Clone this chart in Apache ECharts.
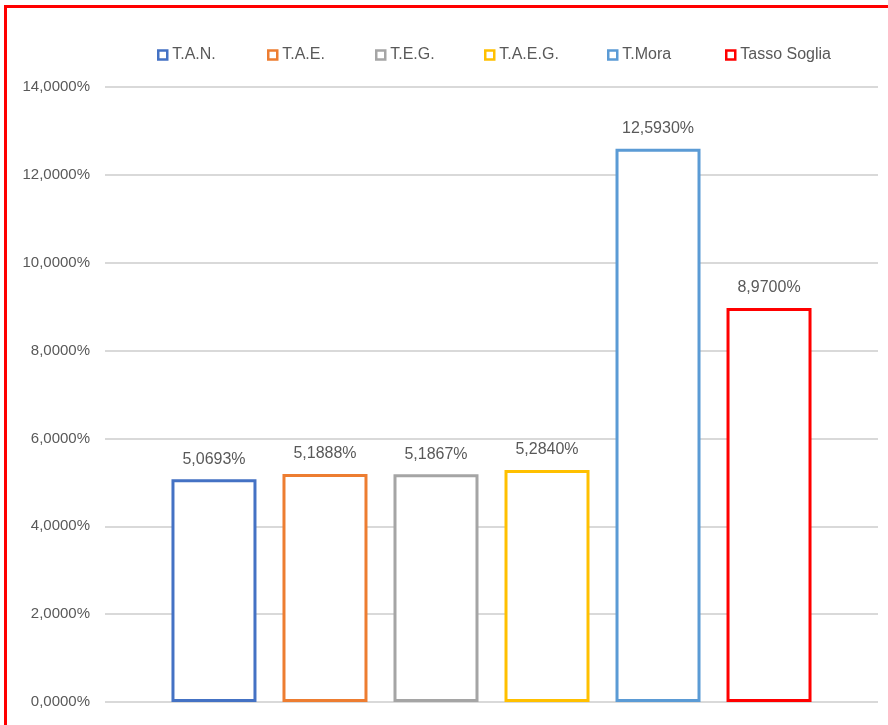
<!DOCTYPE html>
<html>
<head>
<meta charset="utf-8">
<script src="https://cdn.jsdelivr.net/npm/echarts@6/dist/echarts.min.js"></script>
<style>
html,body{margin:0;padding:0;background:#fff;overflow:hidden;}
#chart{width:888px;height:725px;position:absolute;left:0;top:0;}
#frame{position:absolute;left:4px;top:5px;width:900px;height:740px;border:3px solid #ff0000;pointer-events:none;box-sizing:border-box;}
</style>
</head>
<body>
<div id="chart"></div>
<div id="frame"></div>
<script>
const seriesNames = ['T.A.N.', 'T.A.E.', 'T.E.G.', 'T.A.E.G.', 'T.Mora', 'Tasso Soglia'];
const seriesValues = [5.0693, 5.1888, 5.1867, 5.2840, 12.5930, 8.9700];
const seriesColors = ['#4472C4', '#ED7D31', '#A5A5A5', '#FFC000', '#5B9BD5', '#FF0000'];
const categories = [''];
const yTicks = [0, 2, 4, 6, 8, 10, 12, 14];
const legendLefts = [157, 267, 375, 484, 607, 725];

const FONT = "'Liberation Sans', sans-serif";
const fmt = v => v.toFixed(4).replace('.', ',') + '%';

const chart = echarts.init(document.getElementById('chart'), null, {renderer: 'canvas'});

const series = seriesNames.map((name, i) => ({
  name: name,
  type: 'bar',
  data: [seriesValues[i]],
  barWidth: 85,
  barGap: '30.6%',
  itemStyle: {color: '#ffffff', borderColor: seriesColors[i], borderWidth: 3},
  label: {
    show: true, position: 'top', distance: 12,
    formatter: p => fmt(p.value),
    color: '#595959', fontSize: 16, fontFamily: FONT
  },
  emphasis: {disabled: true}
}));

const legends = seriesNames.map((name, i) => ({
  data: [name],
  left: legendLefts[i],
  top: 47,
  icon: 'rect',
  itemWidth: 9, itemHeight: 9,
  itemGap: 8,
  padding: 0,
  itemStyle: {color: '#ffffff', borderColor: seriesColors[i], borderWidth: 2.5},
  textStyle: {color: '#595959', fontSize: 16, fontFamily: FONT, padding: [0, 0, 0, 0]},
  selectedMode: false
}));

chart.setOption({
  animation: false,
  backgroundColor: '#ffffff',
  legend: legends,
  grid: {left: 105, right: 10, top: 87, bottom: 23, containLabel: false},
  xAxis: {
    type: 'category', data: categories,
    axisLine: {show: false}, axisTick: {show: false}, axisLabel: {show: false}
  },
  yAxis: {
    type: 'value', min: yTicks[0], max: yTicks[yTicks.length - 1], interval: 2,
    axisLine: {show: false}, axisTick: {show: false},
    axisLabel: {formatter: v => fmt(v), color: '#595959', fontSize: 15, fontFamily: FONT, margin: 15},
    splitLine: {lineStyle: {color: '#d9d9d9', width: 2}}
  },
  series: series
});
</script>
</body>
</html>
